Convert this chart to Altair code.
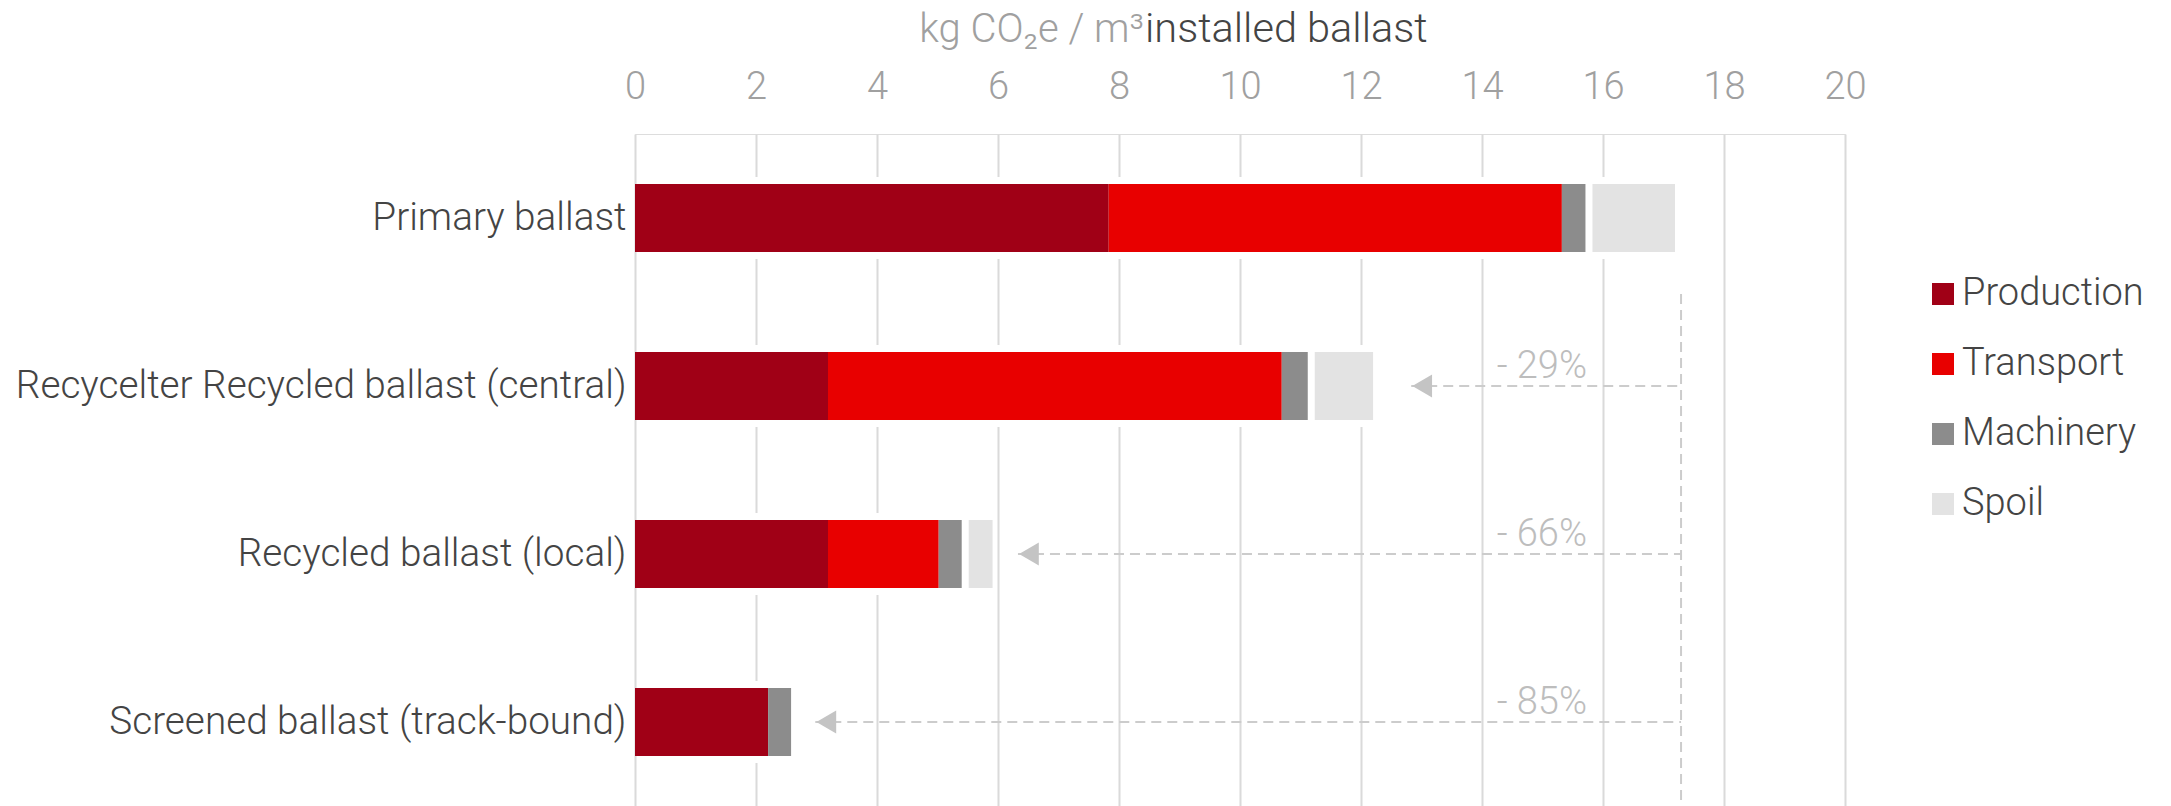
import altair as alt
import pandas as pd

# Categories (top to bottom) and emission components (left to right)
categories = [
    "Primary ballast",
    "Recycelter Recycled ballast (central)",
    "Recycled ballast (local)",
    "Screened ballast (track-bound)",
]
components = ["Production", "Transport", "Machinery", "Spoil"]
colors = ["#a00016", "#e80000", "#8c8c8c", "#e3e3e3"]

# kg CO2e per m3 installed ballast
production = [7.83, 3.19, 3.19, 2.20]
transport = [7.49, 7.50, 1.83, 0.00]
machinery = [0.39, 0.43, 0.38, 0.38]
spoil = [1.48, 1.08, 0.51, 0.00]

# Comparison arrows against the primary ballast total
compared = categories[1:]
arrow_tips = [12.83, 6.33, 2.98]
reference_total = 17.29
x_ticks = list(range(0, 21, 2))

FONT = "Roboto"
PLOT_W, PLOT_H = 1210, 672

# Build the segment table with explicit start / end positions
rows = []
series = [production, transport, machinery, spoil]
for i, cat in enumerate(categories):
    start = 0.0
    for comp, vals in zip(components, series):
        v = vals[i]
        if v > 0:
            rows.append({"category": cat, "component": comp, "value": v,
                         "start": start, "end": start + v})
        start += v
seg = pd.DataFrame(rows)

totals = pd.DataFrame({
    "category": categories,
    "total": [sum(v[i] for v in series) for i in range(len(categories))],
})

primary_total = totals["total"].iloc[0]
arrows = pd.DataFrame({
    "category": compared,
    "tip": arrow_tips,
    "ref": [reference_total] * len(compared),
    "label": [
        f"- {round((1 - t / primary_total) * 100):d}%"
        for t in totals["total"].iloc[1:]
    ],
})

y_enc = alt.Y(
    "category:N",
    sort=categories,
    scale=alt.Scale(domain=categories, paddingInner=0.6, paddingOuter=0.3),
    axis=alt.Axis(
        title=None, domain=False, ticks=False, labelFontSize=38.7,
        labelFont=FONT, labelFontWeight=300, labelColor="#444444",
        labelPadding=9, labelLimit=0,
    ),
)
x_scale = alt.Scale(domain=[0, 20], nice=False, zero=True)
x_axis = alt.Axis(
    orient="top", values=x_ticks, format="d", title=None, domain=False,
    ticks=False, grid=True, gridColor="#dadada", gridWidth=2,
    labelFontSize=38, labelFont=FONT, labelFontWeight=300,
    labelColor="#a0a0a0", labelPadding=28, labelOverlap=False,
    labelFlush=False,
)

color_enc = alt.Color(
    "component:N",
    scale=alt.Scale(domain=components, range=colors),
    legend=alt.Legend(
        title=None, orient="none", legendX=1289, legendY=141,
        symbolType="square", symbolSize=484, symbolStrokeWidth=0,
        labelFontSize=38, labelFont=FONT, labelFontWeight=300,
        labelColor="#444444", rowPadding=32, labelOffset=0, labelLimit=0,
    ),
)

# White halo behind each bar so the grid lines stop short of the bars
halo = alt.Chart(totals).mark_bar(size=82, color="white", xOffset=-3, x2Offset=3).encode(
    x=alt.X("total:Q", scale=x_scale, axis=x_axis),
    x2=alt.datum(0),
    y=y_enc,
)

bars = alt.Chart(seg).transform_filter(
    alt.datum.component != "Spoil"
).mark_bar(size=68).encode(
    x=alt.X("start:Q", scale=x_scale),
    x2="end:Q",
    y=y_enc,
    color=color_enc,
)

spoil_bars = alt.Chart(seg).transform_filter(
    alt.datum.component == "Spoil"
).mark_bar(size=68, xOffset=7).encode(
    x=alt.X("start:Q", scale=x_scale),
    x2="end:Q",
    y=y_enc,
    color=color_enc,
)

ref_line = alt.Chart(pd.DataFrame({"ref": [reference_total]})).mark_rule(
    color="#cccccc", strokeWidth=2, strokeDash=[10, 6]
).encode(
    x=alt.X("ref:Q", scale=x_scale),
    y=alt.value(160),
    y2=alt.value(PLOT_H),
)

arrow_lines = alt.Chart(arrows).mark_rule(
    color="#cccccc", strokeWidth=2, strokeDash=[10, 6]
).encode(
    x=alt.X("tip:Q", scale=x_scale),
    x2="ref:Q",
    y=y_enc,
)

arrow_heads = alt.Chart(arrows).mark_point(
    shape="triangle-left", filled=True, size=520, color="#c4c4c4",
    opacity=1, xOffset=11,
).encode(
    x=alt.X("tip:Q", scale=x_scale),
    y=y_enc,
)

pct_labels = alt.Chart(arrows).mark_text(
    align="right", baseline="middle", dx=-94, dy=-19, fontSize=38,
    font=FONT, fontWeight=300, color="#bdbdbd",
).encode(
    x=alt.X("ref:Q", scale=x_scale),
    y=y_enc,
    text="label:N",
)

title_unit = alt.Chart(pd.DataFrame({"t": ["kg CO₂e / m³"]})).mark_text(
    align="right", baseline="middle", fontSize=40, font=FONT, fontWeight=300,
    color="#a0a0a0",
).encode(x=alt.value(509), y=alt.value(-104), text="t:N")

title_rest = alt.Chart(pd.DataFrame({"t": ["installed ballast"]})).mark_text(
    align="left", baseline="middle", fontSize=41.5, font=FONT, fontWeight=300,
    color="#444444",
).encode(x=alt.value(510), y=alt.value(-104), text="t:N")

chart = alt.layer(
    halo, bars, spoil_bars, ref_line, arrow_lines, arrow_heads,
    pct_labels, title_unit, title_rest,
).properties(
    width=PLOT_W,
    height=PLOT_H,
    autosize=alt.AutoSizeParams(type="none"),
    padding={"left": 635, "top": 134, "right": 326, "bottom": 0},
).configure_view(
    stroke=None
).configure(
    background="white"
)

chart.save("out.html", embed_options={"renderer": "svg", "actions": False})
